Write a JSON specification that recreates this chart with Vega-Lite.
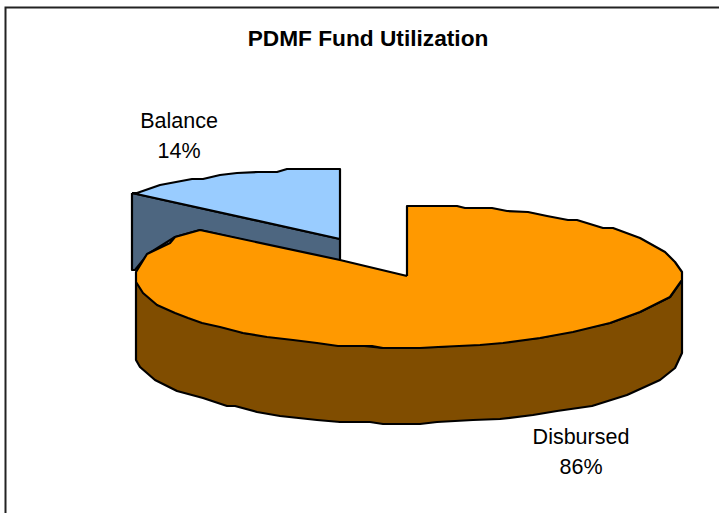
{"$schema":"https://vega.github.io/schema/vega-lite/v6.json","autosize":{"type":"fit","contains":"padding"},"width":719,"height":513,"padding":0,"background":"white","view":{"stroke":null},
"datasets":{"shapes":[
{"part":"Frame","i":0,"x":5.5,"y":513},{"part":"Frame","i":1,"x":5.5,"y":7.5},{"part":"Frame","i":2,"x":719,"y":7.5}
],
"slices":[
{"part":"Balance side","i":0,"x":132,"y":193},{"part":"Balance side","i":1,"x":340,"y":239},{"part":"Balance side","i":2,"x":340,"y":262},{"part":"Balance side","i":3,"x":200,"y":230},{"part":"Balance side","i":4,"x":175,"y":237},{"part":"Balance side","i":5,"x":148,"y":254},{"part":"Balance side","i":6,"x":135,"y":270},{"part":"Balance side","i":7,"x":132,"y":270},{"part":"Balance side","i":8,"x":132,"y":193},
{"part":"Balance top","i":0,"x":132,"y":193},{"part":"Balance top","i":1,"x":137,"y":193},{"part":"Balance top","i":2,"x":160,"y":185},{"part":"Balance top","i":3,"x":192,"y":179},{"part":"Balance top","i":4,"x":203,"y":179},{"part":"Balance top","i":5,"x":220,"y":175},{"part":"Balance top","i":6,"x":237,"y":173},{"part":"Balance top","i":7,"x":258,"y":172},{"part":"Balance top","i":8,"x":277,"y":172},{"part":"Balance top","i":9,"x":287,"y":169},{"part":"Balance top","i":10,"x":340,"y":169},{"part":"Balance top","i":11,"x":340,"y":239},{"part":"Balance top","i":12,"x":132,"y":193},
{"part":"Disbursed side","i":0,"x":682,"y":280},{"part":"Disbursed side","i":1,"x":670,"y":297},{"part":"Disbursed side","i":2,"x":640,"y":312},{"part":"Disbursed side","i":3,"x":610,"y":323},{"part":"Disbursed side","i":4,"x":540,"y":338},{"part":"Disbursed side","i":5,"x":438,"y":347},{"part":"Disbursed side","i":6,"x":383,"y":348},{"part":"Disbursed side","i":7,"x":243,"y":333},{"part":"Disbursed side","i":8,"x":136,"y":282},{"part":"Disbursed side","i":9,"x":136,"y":360},{"part":"Disbursed side","i":10,"x":140,"y":367},{"part":"Disbursed side","i":11,"x":155,"y":380},{"part":"Disbursed side","i":12,"x":177,"y":391},{"part":"Disbursed side","i":13,"x":203,"y":398},{"part":"Disbursed side","i":14,"x":227,"y":406},{"part":"Disbursed side","i":15,"x":235,"y":406},{"part":"Disbursed side","i":16,"x":257,"y":412},{"part":"Disbursed side","i":17,"x":280,"y":416},{"part":"Disbursed side","i":18,"x":317,"y":420},{"part":"Disbursed side","i":19,"x":340,"y":422},{"part":"Disbursed side","i":20,"x":370,"y":422},{"part":"Disbursed side","i":21,"x":383,"y":424},{"part":"Disbursed side","i":22,"x":420,"y":424},{"part":"Disbursed side","i":23,"x":437,"y":422},{"part":"Disbursed side","i":24,"x":473,"y":420},{"part":"Disbursed side","i":25,"x":500,"y":419},{"part":"Disbursed side","i":26,"x":533,"y":415},{"part":"Disbursed side","i":27,"x":557,"y":411},{"part":"Disbursed side","i":28,"x":592,"y":406},{"part":"Disbursed side","i":29,"x":627,"y":395},{"part":"Disbursed side","i":30,"x":660,"y":380},{"part":"Disbursed side","i":31,"x":675,"y":368},{"part":"Disbursed side","i":32,"x":682,"y":353},{"part":"Disbursed side","i":33,"x":682,"y":280},
{"part":"Disbursed top","i":0,"x":407,"y":276},{"part":"Disbursed top","i":1,"x":407,"y":206},{"part":"Disbursed top","i":2,"x":457,"y":206},{"part":"Disbursed top","i":3,"x":465,"y":208},{"part":"Disbursed top","i":4,"x":492,"y":208},{"part":"Disbursed top","i":5,"x":507,"y":211},{"part":"Disbursed top","i":6,"x":528,"y":212},{"part":"Disbursed top","i":7,"x":547,"y":216},{"part":"Disbursed top","i":8,"x":568,"y":220},{"part":"Disbursed top","i":9,"x":577,"y":220},{"part":"Disbursed top","i":10,"x":603,"y":228},{"part":"Disbursed top","i":11,"x":613,"y":228},{"part":"Disbursed top","i":12,"x":640,"y":238},{"part":"Disbursed top","i":13,"x":665,"y":252},{"part":"Disbursed top","i":14,"x":675,"y":262},{"part":"Disbursed top","i":15,"x":682,"y":272},{"part":"Disbursed top","i":16,"x":682,"y":280},{"part":"Disbursed top","i":17,"x":670,"y":297},{"part":"Disbursed top","i":18,"x":640,"y":312},{"part":"Disbursed top","i":19,"x":610,"y":323},{"part":"Disbursed top","i":20,"x":573,"y":332},{"part":"Disbursed top","i":21,"x":540,"y":338},{"part":"Disbursed top","i":22,"x":503,"y":343},{"part":"Disbursed top","i":23,"x":480,"y":345},{"part":"Disbursed top","i":24,"x":438,"y":347},{"part":"Disbursed top","i":25,"x":420,"y":348},{"part":"Disbursed top","i":26,"x":383,"y":348},{"part":"Disbursed top","i":27,"x":372,"y":346},{"part":"Disbursed top","i":28,"x":338,"y":346},{"part":"Disbursed top","i":29,"x":317,"y":343},{"part":"Disbursed top","i":30,"x":293,"y":340},{"part":"Disbursed top","i":31,"x":267,"y":337},{"part":"Disbursed top","i":32,"x":243,"y":333},{"part":"Disbursed top","i":33,"x":220,"y":327},{"part":"Disbursed top","i":34,"x":202,"y":323},{"part":"Disbursed top","i":35,"x":188,"y":318},{"part":"Disbursed top","i":36,"x":175,"y":313},{"part":"Disbursed top","i":37,"x":157,"y":305},{"part":"Disbursed top","i":38,"x":143,"y":293},{"part":"Disbursed top","i":39,"x":136,"y":282},{"part":"Disbursed top","i":40,"x":136,"y":272},{"part":"Disbursed top","i":41,"x":147,"y":254},{"part":"Disbursed top","i":42,"x":170,"y":243},{"part":"Disbursed top","i":43,"x":175,"y":237},{"part":"Disbursed top","i":44,"x":200,"y":230},{"part":"Disbursed top","i":45,"x":340,"y":260},{"part":"Disbursed top","i":46,"x":407,"y":276}
],
"labels":[
{"text":"Balance","x":179,"y":122},{"text":"14%","x":179,"y":152},{"text":"Disbursed","x":581,"y":438},{"text":"86%","x":581,"y":468}
],
"heading":[{"text":"PDMF Fund Utilization","x":368,"y":39}]},
"layer":[
{"data":{"name":"shapes"},"mark":{"type":"line","stroke":"#222222","strokeWidth":2,"clip":true},
"encoding":{"x":{"field":"x","type":"quantitative","scale":{"domain":[0,719]},"axis":null},"y":{"field":"y","type":"quantitative","scale":{"domain":[513,0]},"axis":null},"order":{"field":"i"}}},
{"data":{"name":"slices"},"mark":{"type":"line","strokeWidth":2.2,"stroke":"black","strokeJoin":"round"},
"encoding":{"x":{"field":"x","type":"quantitative","scale":{"domain":[0,719]},"axis":null},"y":{"field":"y","type":"quantitative","scale":{"domain":[513,0]},"axis":null},"order":{"field":"i"},
"fill":{"field":"part","type":"nominal","legend":null,"scale":{"domain":["Balance side","Balance top","Disbursed side","Disbursed top"],"range":["#4D6680","#99CCFF","#804D00","#FF9900"]}}}},
{"data":{"name":"labels"},"mark":{"type":"text","font":"Liberation Sans","fontSize":21.5,"color":"#000000","align":"center","baseline":"middle"},
"encoding":{"x":{"field":"x","type":"quantitative","scale":{"domain":[0,719]},"axis":null},"y":{"field":"y","type":"quantitative","scale":{"domain":[513,0]},"axis":null},"text":{"field":"text"}}},
{"data":{"name":"heading"},"mark":{"type":"text","font":"Liberation Sans","fontSize":22.7,"fontWeight":"bold","color":"#000000","align":"center","baseline":"middle"},
"encoding":{"x":{"field":"x","type":"quantitative","scale":{"domain":[0,719]},"axis":null},"y":{"field":"y","type":"quantitative","scale":{"domain":[513,0]},"axis":null},"text":{"field":"text"}}}
]}
